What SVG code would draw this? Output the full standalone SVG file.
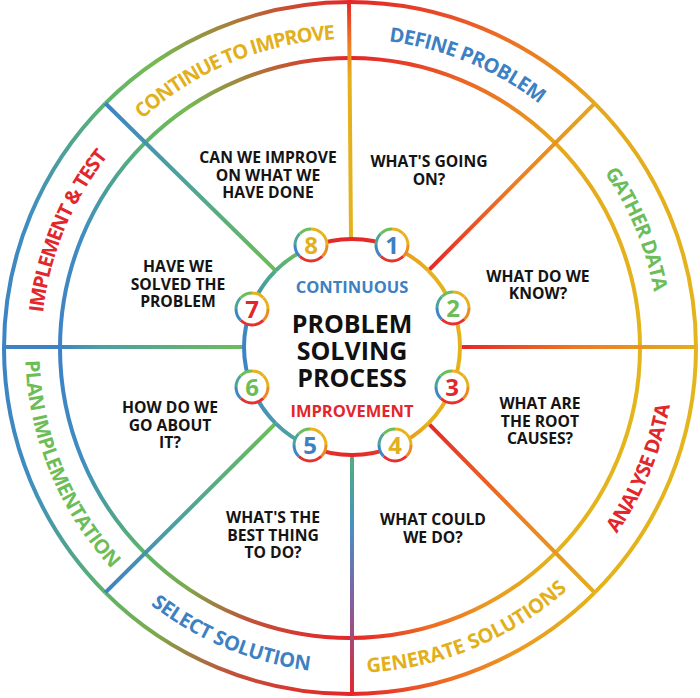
<svg xmlns="http://www.w3.org/2000/svg" xmlns:xlink="http://www.w3.org/1999/xlink" width="700" height="698" viewBox="0 0 700 698">
<style>
.ring{fill:none;stroke-width:4}
.spk{fill:none;stroke-width:4;stroke-linecap:butt}
.q{font-family:"Open Sans","Liberation Sans",sans-serif;font-weight:700;font-size:15.7px;fill:#141414;text-anchor:middle}
.band{font-family:"Open Sans","Liberation Sans",sans-serif;font-weight:700;font-size:20px}
.num{font-family:"Open Sans","Liberation Sans",sans-serif;font-weight:700;font-size:24px;text-anchor:middle}
.big{font-family:"Open Sans","Liberation Sans",sans-serif;font-weight:700;font-size:25px;fill:#111;text-anchor:middle}
.sub{font-family:"Open Sans","Liberation Sans",sans-serif;font-weight:700;font-size:16.5px;text-anchor:middle}
.blue{fill:#3d80c3}.green{fill:#6cbd58}.red{fill:#e2262b}.gold{fill:#e2b01c}
</style>
<defs>
<!-- outer ring segment gradients (bbox units) -->
<linearGradient id="o0" x1="0" y1="0" x2="1" y2="1"><stop offset="0" stop-color="#e52629"/><stop offset="0.45" stop-color="#ec6a25"/><stop offset="1" stop-color="#e5a81d"/></linearGradient>
<linearGradient id="o1" x1="0" y1="0" x2="1" y2="1"><stop offset="0" stop-color="#e5a81d"/><stop offset="1" stop-color="#e4b51c"/></linearGradient>
<linearGradient id="o2" x1="1" y1="0" x2="0" y2="1"><stop offset="0" stop-color="#e4b51c"/><stop offset="1" stop-color="#e4b31c"/></linearGradient>
<linearGradient id="o3" x1="1" y1="0" x2="0" y2="1"><stop offset="0" stop-color="#e4b31c"/><stop offset="0.45" stop-color="#eb9a21"/><stop offset="0.75" stop-color="#ed6a25"/><stop offset="1" stop-color="#e52629"/></linearGradient>
<linearGradient id="o4" x1="1" y1="1" x2="0" y2="0"><stop offset="0" stop-color="#e52629"/><stop offset="0.35" stop-color="#c0533a"/><stop offset="0.7" stop-color="#7aab4c"/><stop offset="1" stop-color="#5db46a"/></linearGradient>
<linearGradient id="o5" x1="1" y1="1" x2="0" y2="0"><stop offset="0" stop-color="#5db46a"/><stop offset="0.6" stop-color="#3f8ec0"/><stop offset="1" stop-color="#3d82c5"/></linearGradient>
<linearGradient id="o6" x1="0" y1="1" x2="1" y2="0"><stop offset="0" stop-color="#3d82c5"/><stop offset="0.4" stop-color="#3f8ec0"/><stop offset="1" stop-color="#5cb46e"/></linearGradient>
<linearGradient id="o7" x1="0" y1="1" x2="1" y2="0"><stop offset="0" stop-color="#5cb46e"/><stop offset="0.3" stop-color="#74bb52"/><stop offset="0.62" stop-color="#a3853e"/><stop offset="1" stop-color="#e52629"/></linearGradient>
<!-- inner circle gradients -->
<linearGradient id="i0" x1="0" y1="0" x2="1" y2="1"><stop offset="0" stop-color="#e52629"/><stop offset="0.45" stop-color="#e5352a"/><stop offset="0.6" stop-color="#e8a01f"/><stop offset="1" stop-color="#e4b31c"/></linearGradient>
<linearGradient id="i3" x1="1" y1="0" x2="0" y2="1"><stop offset="0" stop-color="#e4b31c"/><stop offset="0.45" stop-color="#eb9521"/><stop offset="0.6" stop-color="#e5452a"/><stop offset="1" stop-color="#e52629"/></linearGradient>
<linearGradient id="i4" x1="1" y1="1" x2="0" y2="0"><stop offset="0" stop-color="#e52629"/><stop offset="0.45" stop-color="#e0402e"/><stop offset="0.6" stop-color="#4da59a"/><stop offset="1" stop-color="#4a9ab0"/></linearGradient>
<linearGradient id="i5" x1="1" y1="1" x2="0" y2="0"><stop offset="0" stop-color="#4a9ab0"/><stop offset="1" stop-color="#3d82c5"/></linearGradient>
<linearGradient id="i6" x1="0" y1="1" x2="1" y2="0"><stop offset="0" stop-color="#3d82c5"/><stop offset="1" stop-color="#52ab88"/></linearGradient>
<linearGradient id="i7" x1="0" y1="1" x2="1" y2="0"><stop offset="0" stop-color="#52ab88"/><stop offset="0.45" stop-color="#6dbd58"/><stop offset="0.6" stop-color="#e3302b"/><stop offset="1" stop-color="#e52629"/></linearGradient>
<!-- spoke gradients -->
<linearGradient id="s0" gradientUnits="userSpaceOnUse" x1="351" y1="239" x2="349" y2="2"><stop offset="0" stop-color="#e4b31c"/><stop offset="0.68" stop-color="#e4b01c"/><stop offset="0.82" stop-color="#ee7d22"/><stop offset="1" stop-color="#e52629"/></linearGradient>
<linearGradient id="s1" gradientUnits="userSpaceOnUse" x1="428.4" y1="270.6" x2="594.7" y2="103.3"><stop offset="0" stop-color="#e52629"/><stop offset="0.5" stop-color="#ec7a23"/><stop offset="1" stop-color="#e5a81d"/></linearGradient>
<linearGradient id="s2" gradientUnits="userSpaceOnUse" x1="460" y1="347" x2="696" y2="347"><stop offset="0" stop-color="#e52629"/><stop offset="0.5" stop-color="#ec7a23"/><stop offset="1" stop-color="#e5ae1d"/></linearGradient>
<linearGradient id="s3" gradientUnits="userSpaceOnUse" x1="428.4" y1="423.4" x2="594.7" y2="592.7"><stop offset="0" stop-color="#e52629"/><stop offset="0.5" stop-color="#ec7a23"/><stop offset="1" stop-color="#e5ae1d"/></linearGradient>
<linearGradient id="s4" gradientUnits="userSpaceOnUse" x1="352" y1="455" x2="352" y2="694"><stop offset="0" stop-color="#55ad7e"/><stop offset="0.3" stop-color="#4a8ec2"/><stop offset="0.65" stop-color="#8a5a9a"/><stop offset="1" stop-color="#e52629"/></linearGradient>
<linearGradient id="s5" gradientUnits="userSpaceOnUse" x1="275.6" y1="423.4" x2="105.3" y2="592.7"><stop offset="0" stop-color="#6dbd58"/><stop offset="0.6" stop-color="#4aa0a0"/><stop offset="1" stop-color="#3d82c5"/></linearGradient>
<linearGradient id="s6" gradientUnits="userSpaceOnUse" x1="244" y1="347" x2="4" y2="347"><stop offset="0" stop-color="#6dbd58"/><stop offset="0.6" stop-color="#4a9fa5"/><stop offset="0.78" stop-color="#3d82c5"/><stop offset="1" stop-color="#3d82c5"/></linearGradient>
<linearGradient id="s7" gradientUnits="userSpaceOnUse" x1="275.6" y1="270.6" x2="105.3" y2="103.3"><stop offset="0" stop-color="#6dbd58"/><stop offset="0.6" stop-color="#4aa0a0"/><stop offset="1" stop-color="#3d82c5"/></linearGradient>
<!-- band text paths -->
<path id="tp8" d="M131.5,129.5 A309,309 0 0 1 350,39"/>
<path id="tp1" d="M350,39 A309,309 0 0 1 568.5,129.5"/>
<path id="tp2" d="M568.5,129.5 A309,309 0 0 1 659,348"/>
<path id="tp7" d="M41,348 A309,309 0 0 1 131.5,129.5"/>
<path id="tp3" d="M579.8,577.8 A325,325 0 0 0 675,348"/>
<path id="tp4" d="M350,673 A325,325 0 0 0 579.8,577.8"/>
<path id="tp5" d="M120.2,577.8 A325,325 0 0 0 350,673"/>
<path id="tp6" d="M25,348 A325,325 0 0 0 120.2,577.8"/>
<!-- badge -->
<g id="badge">
<circle r="16" fill="#fff"/>
<g fill="none" stroke-width="3">
<path d="M0,-16 A16,16 0 0 1 11.31,-11.31" stroke="#e8b21e"/>
<path d="M11.31,-11.31 A16,16 0 0 1 16,0" stroke="#e8b21e"/>
<path d="M16,0 A16,16 0 0 1 11.31,11.31" stroke="#ec8a24"/>
<path d="M11.31,11.31 A16,16 0 0 1 0,16" stroke="#e5322d"/>
<path d="M0,16 A16,16 0 0 1 -11.31,11.31" stroke="#e5322d"/>
<path d="M-11.31,11.31 A16,16 0 0 1 -16,0" stroke="#3f86c5"/>
<path d="M-16,0 A16,16 0 0 1 -11.31,-11.31" stroke="#4da59a"/>
<path d="M-11.31,-11.31 A16,16 0 0 1 0,-16" stroke="#6dbd58"/>
</g>
</g>
</defs>
<rect width="700" height="698" fill="#fff"/>

<g id="rings">
<path class="ring" stroke="url(#o0)" d="M350,2 A346,346 0 0 1 594.66,103.34"/>
<path class="ring" stroke="url(#o1)" d="M594.66,103.34 A346,346 0 0 1 696,348"/>
<path class="ring" stroke="url(#o2)" d="M696,348 A346,346 0 0 1 594.66,592.66"/>
<path class="ring" stroke="url(#o3)" d="M594.66,592.66 A346,346 0 0 1 350,694"/>
<path class="ring" stroke="url(#o4)" d="M350,694 A346,346 0 0 1 105.34,592.66"/>
<path class="ring" stroke="url(#o5)" d="M105.34,592.66 A346,346 0 0 1 4,348"/>
<path class="ring" stroke="url(#o6)" d="M4,348 A346,346 0 0 1 105.34,103.34"/>
<path class="ring" stroke="url(#o7)" d="M105.34,103.34 A346,346 0 0 1 350,2"/>
<path class="ring" stroke="url(#o0)" d="M350,58 A290,290 0 0 1 555.06,142.94"/>
<path class="ring" stroke="url(#o1)" d="M555.06,142.94 A290,290 0 0 1 640,348"/>
<path class="ring" stroke="url(#o2)" d="M640,348 A290,290 0 0 1 555.06,553.06"/>
<path class="ring" stroke="url(#o3)" d="M555.06,553.06 A290,290 0 0 1 350,638"/>
<path class="ring" stroke="url(#o4)" d="M350,638 A290,290 0 0 1 144.94,553.06"/>
<path class="ring" stroke="url(#o5)" d="M144.94,553.06 A290,290 0 0 1 60,348"/>
<path class="ring" stroke="url(#o6)" d="M60,348 A290,290 0 0 1 144.94,142.94"/>
<path class="ring" stroke="url(#o7)" d="M144.94,142.94 A290,290 0 0 1 350,58"/>
</g>

<g id="connectors">
<line class="spk" stroke="url(#s0)" x1="351" y1="239" x2="349" y2="2"/>
<line class="spk" stroke="url(#s1)" x1="428.4" y1="270.6" x2="594.7" y2="103.3"/>
<line class="spk" stroke="url(#s2)" x1="460" y1="347" x2="696" y2="347"/>
<line class="spk" stroke="url(#s3)" x1="428.4" y1="423.4" x2="594.7" y2="592.7"/>
<line class="spk" stroke="url(#s4)" x1="352" y1="455" x2="352" y2="694"/>
<line class="spk" stroke="url(#s5)" x1="275.6" y1="423.4" x2="105.3" y2="592.7"/>
<line class="spk" stroke="url(#s6)" x1="244" y1="347" x2="4" y2="347"/>
<line class="spk" stroke="url(#s7)" x1="275.6" y1="270.6" x2="105.3" y2="103.3"/>
</g>

<g id="center">
<path class="ring" stroke="url(#i0)" d="M352,239 A108,108 0 0 1 428.37,270.63"/>
<path class="ring" stroke="#e4b31c" d="M428.37,270.63 A108,108 0 0 1 460,347"/>
<path class="ring" stroke="#e4b31c" d="M460,347 A108,108 0 0 1 428.37,423.37"/>
<path class="ring" stroke="url(#i3)" d="M428.37,423.37 A108,108 0 0 1 352,455"/>
<path class="ring" stroke="url(#i4)" d="M352,455 A108,108 0 0 1 275.63,423.37"/>
<path class="ring" stroke="url(#i5)" d="M275.63,423.37 A108,108 0 0 1 244,347"/>
<path class="ring" stroke="url(#i6)" d="M244,347 A108,108 0 0 1 275.63,270.63"/>
<path class="ring" stroke="url(#i7)" d="M275.63,270.63 A108,108 0 0 1 352,239"/>
<text class="sub blue" x="352" y="293">CONTINUOUS</text>
<text class="big" x="352" y="333">PROBLEM</text>
<text class="big" x="352" y="360">SOLVING</text>
<text class="big" x="352" y="387">PROCESS</text>
<text class="sub red" x="352" y="417">IMPROVEMENT</text>
</g>

<g id="badge1"><use xlink:href="#badge" href="#badge" x="392" y="245"/><text class="num blue" x="392" y="253.5">1</text></g>
<g id="badge2"><use xlink:href="#badge" href="#badge" x="453" y="308"/><text class="num green" x="453" y="316.5">2</text></g>
<g id="badge3"><use xlink:href="#badge" href="#badge" x="452" y="387"/><text class="num red" x="452" y="395.5">3</text></g>
<g id="badge4"><use xlink:href="#badge" href="#badge" x="395" y="445"/><text class="num gold" x="395" y="453.5">4</text></g>
<g id="badge5"><use xlink:href="#badge" href="#badge" x="310" y="445"/><text class="num blue" x="310" y="453.5">5</text></g>
<g id="badge6"><use xlink:href="#badge" href="#badge" x="252" y="387"/><text class="num green" x="252" y="395.5">6</text></g>
<g id="badge7"><use xlink:href="#badge" href="#badge" x="252" y="309"/><text class="num red" x="252" y="317.5">7</text></g>
<g id="badge8"><use xlink:href="#badge" href="#badge" x="311" y="245"/><text class="num gold" x="311" y="253.5">8</text></g>

<g id="q1"><text class="q" x="429" y="167">WHAT'S GOING<tspan x="429" dy="17.5">ON?</tspan></text></g>
<g id="q2"><text class="q" x="538" y="282">WHAT DO WE<tspan x="538" dy="17">KNOW?</tspan></text></g>
<g id="q3"><text class="q" x="540" y="409">WHAT ARE<tspan x="540" dy="17.5">THE ROOT</tspan><tspan x="540" dy="17">CAUSES?</tspan></text></g>
<g id="q4"><text class="q" x="433" y="525">WHAT COULD<tspan x="433" dy="17.5">WE DO?</tspan></text></g>
<g id="q5"><text class="q" x="273" y="523">WHAT'S THE<tspan x="273" dy="17.5">BEST THING</tspan><tspan x="273" dy="17">TO DO?</tspan></text></g>
<g id="q6"><text class="q" x="170" y="413">HOW DO WE<tspan x="170" dy="17.5">GO ABOUT</tspan><tspan x="170" dy="17.5">IT?</tspan></text></g>
<g id="q7"><text class="q" x="178" y="272">HAVE WE<tspan x="178" dy="17.5">SOLVED THE</tspan><tspan x="178" dy="17.5">PROBLEM</tspan></text></g>
<g id="q8"><text class="q" x="268" y="163">CAN WE IMPROVE<tspan x="268" dy="17.5">ON WHAT WE</tspan><tspan x="268" dy="17.5">HAVE DONE</tspan></text></g>

<g id="label1"><text class="band blue" text-anchor="middle"><textPath xlink:href="#tp1" href="#tp1" startOffset="50%" textLength="165">DEFINE PROBLEM</textPath></text></g>
<g id="label2"><text class="band green" text-anchor="middle"><textPath xlink:href="#tp2" href="#tp2" startOffset="50%" textLength="130">GATHER DATA</textPath></text></g>
<g id="label3"><text class="band red" text-anchor="middle"><textPath xlink:href="#tp3" href="#tp3" startOffset="50%" textLength="140">ANALYSE DATA</textPath></text></g>
<g id="label4"><text class="band gold" text-anchor="middle"><textPath xlink:href="#tp4" href="#tp4" startOffset="50%" textLength="221">GENERATE SOLUTIONS</textPath></text></g>
<g id="label5"><text class="band blue" text-anchor="middle"><textPath xlink:href="#tp5" href="#tp5" startOffset="50%" textLength="174">SELECT SOLUTION</textPath></text></g>
<g id="label6"><text class="band green" text-anchor="middle"><textPath xlink:href="#tp6" href="#tp6" startOffset="50%" textLength="230">PLAN IMPLEMENTATION</textPath></text></g>
<g id="label7"><text class="band red" text-anchor="middle"><textPath xlink:href="#tp7" href="#tp7" startOffset="50%" textLength="172">IMPLEMENT &amp; TEST</textPath></text></g>
<g id="label8"><text class="band gold" text-anchor="middle"><textPath xlink:href="#tp8" href="#tp8" startOffset="50%" textLength="213">CONTINUE TO IMPROVE</textPath></text></g>
</svg>
